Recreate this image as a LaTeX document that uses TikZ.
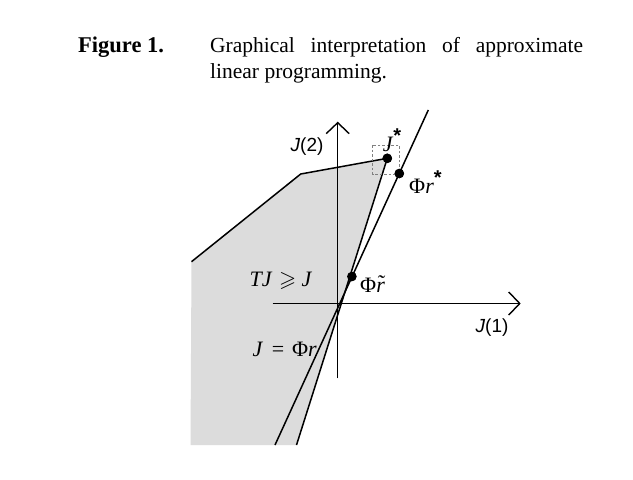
\documentclass[tikz,border=0pt]{standalone}
\usepackage{amssymb}
\usepackage{fontspec}
\setmainfont{Liberation Serif}
\setsansfont{Liberation Sans}
\usetikzlibrary{arrows.meta}
\definecolor{regiongray}{RGB}{220,220,220}
\newcommand{\bigstarsym}{\raisebox{0.42em}{\sffamily\bfseries\fontsize{20}{20}\selectfont *}}
\newcommand{\rtilde}{\textit{r}\kern-0.38em\raisebox{0.12em}{\textit{\char"02DC}}}
\tikzset{
  ln/.style={line width=1.5pt, black},
  axis/.style={line width=1.4pt, black, -{Straight Barb[length=11pt,width=23pt,line width=1.4pt]}},
  dot/.style={circle, fill=black, inner sep=0pt, minimum size=9.5pt},
  dashbox/.style={gray, line width=0.8pt, dash pattern=on 2.5pt off 2pt},
  mlbl/.style={inner sep=0pt, font=\fontsize{22}{24}\selectfont},
  slbl/.style={inner sep=0pt, font=\sffamily\fontsize{19}{22}\selectfont},
  capfont/.style={inner sep=0pt, font=\fontsize{21.5}{24}\selectfont},
}
\begin{document}
\begin{tikzpicture}[x=1pt,y=-1pt]
\useasboundingbox (0,0) rectangle (633,480);
\fill[white] (0,0) rectangle (633,480);
% caption
\node[capfont, anchor=base west, font=\bfseries\fontsize{22.5}{24}\selectfont] (fig) at (78,52) {Figure 1.};
\node[capfont, anchor=base west] (cap1) at (210,52) {\makebox[373pt][s]{Graphical interpretation of approximate}};
\node[capfont, anchor=base west] (cap2) at (210,78) {linear programming.};
% key points
\coordinate (P1) at (191.5,261.7);
\coordinate (P2) at (300.7,174);
\coordinate (Bl) at (190.5,445);
\coordinate (Bj) at (296.5,445);
\coordinate (Tr) at (428.3,110);
\coordinate (Br) at (275,445);
\coordinate (Yb) at (337.7,378.3);
\coordinate (Yt) at (337.7,121.7);
\coordinate (Xl) at (272.7,303.5);
\coordinate (Xr) at (520.7,303.5);
\node[dot] (Js) at (387.3,158.3) {};
\node[dot] (Prs) at (399.3,173.5) {};
\node[dot] (Prt) at (351.8,276.5) {};
% region
\fill[regiongray] (P1) -- (P2) -- (Js.center) -- (Bj) -- (Bl) -- cycle;
% axes
\draw[axis] (Yb) -- (Yt);
\draw[axis] (Xl) -- (Xr);
% lines
\draw[ln, line join=round] (P1) -- (P2) -- (Js.center) -- (Bj);
\draw[ln] (Tr) -- (Br);
% dashed box
\draw[dashbox] (372.7,145) rectangle (399.3,174);
% redraw dots on top
\node[dot] at (Js) {};
\node[dot] at (Prs) {};
\node[dot] at (Prt) {};
% labels
\node[slbl] (lJ2) at (307,147) {\textit{J}(2)};
\node[slbl] (lJ1) at (492,328) {\textit{J}(1)};
\node[mlbl] (lTJ) at (281,281) {\textit{TJ}\hspace{0.3em}$\geqslant$\hspace{0.25em}\textit{J}};
\node[mlbl, anchor=east] (lJr) at (317,349) {\textit{J}\hspace{0.4em}=\hspace{0.35em}Φ\textit{r}};
\node[mlbl, anchor=west] (lPrt) at (360,284) {Φ\rtilde};
\node[mlbl, anchor=west] (lPrs) at (409,182) {Φ\textit{r}\bigstarsym};
\node[mlbl] (lJs) at (392,140) {\textit{J}\bigstarsym};
\end{tikzpicture}
\end{document}
